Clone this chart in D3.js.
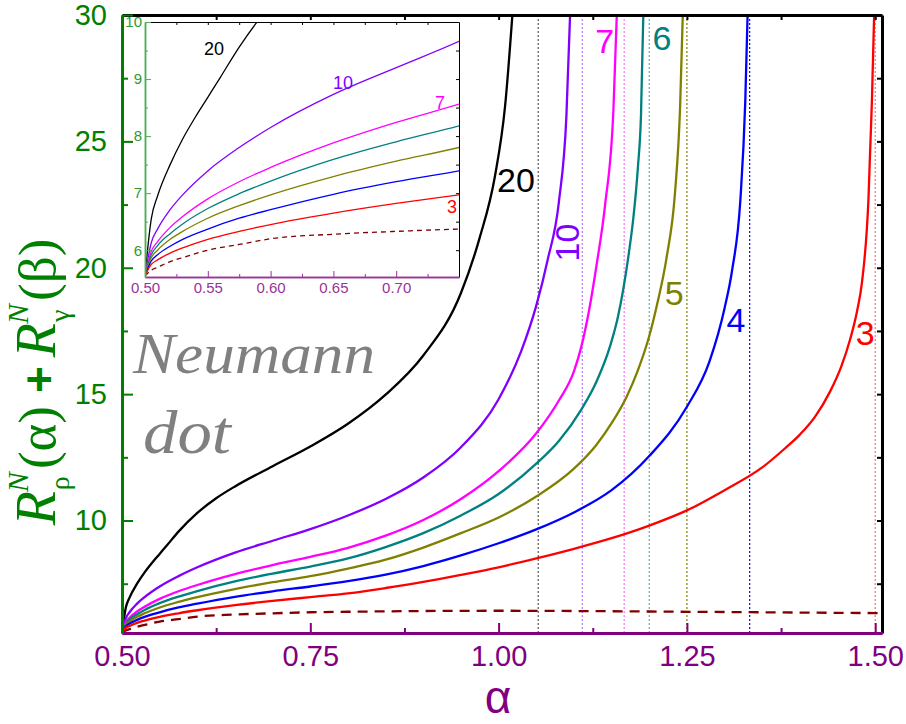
<!DOCTYPE html>
<html><head><meta charset="utf-8">
<script src="https://cdn.jsdelivr.net/npm/d3@7"></script>
<style>body{margin:0;background:#fff}svg{display:block}</style>
</head><body><svg id="c" width="906" height="724"></svg>
<script>
// ---------------- data ----------------
const curveNames  = ["20","10","7","6","5","4","3"];
const curveColors = ["#000000","#8000ff","#ff00ff","#008080","#808000","#0000ff","#ff0000"];
const poleColors  = ["#555555","#b07cff","#ff70ff","#5fb0b0","#808000","#0000ff","#ff7070"];
const poles = [1.0526, 1.1111, 1.1667, 1.2, 1.25, 1.3333, 1.5];
const xTickLabels = [0.50, 0.75, 1.00, 1.25, 1.50];
const yTickLabels = [10, 15, 20, 25, 30];
const insetXTickLabels = [0.50, 0.55, 0.60, 0.65, 0.70];
const insetYTickLabels = [6, 7, 8, 9, 10];

const s20 = [[0.5,5.55],[0.505,6.55],[0.51,6.95],[0.52,7.5],[0.53,7.95],[0.54,8.33],[0.55,8.68],[0.56,9.03],[0.575,9.56],[0.6,10.3],[0.625,10.88],[0.65,11.35],[0.7,12.15],[0.75,12.93],[0.8,13.83],[0.85,14.98],[0.9,16.53],[0.95,19.0],[0.975,21.2],[0.995,23.6],[1.0086,26.4],[1.0195,30.5]];
const s10 = [[0.5,5.55],[0.505,6.13],[0.51,6.37],[0.52,6.71],[0.53,6.97],[0.55,7.39],[0.575,7.8],[0.6,8.15],[0.65,8.73],[0.7,9.2],[0.75,9.66],[0.8,10.2],[0.85,10.85],[0.9,11.7],[0.95,12.9],[1.0,14.8],[1.03,16.7],[1.05,18.5],[1.065,20.3],[1.08,22.6],[1.09,26.0],[1.0955,30.5]];
const s7  = [[0.5,5.55],[0.505,5.98],[0.51,6.15],[0.52,6.4],[0.53,6.59],[0.55,6.9],[0.575,7.2],[0.6,7.45],[0.65,7.88],[0.7,8.24],[0.75,8.56],[0.8,8.92],[0.85,9.4],[0.9,10.02],[0.95,10.85],[1.0,11.95],[1.05,13.45],[1.08,14.75],[1.1,15.9],[1.11,16.9],[1.12,18.3],[1.13,20.1],[1.1414,22.5],[1.1525,26.3],[1.1575,30.5]];
const s6  = [[0.5,5.55],[0.505,5.92],[0.51,6.08],[0.52,6.29],[0.53,6.46],[0.55,6.73],[0.575,6.99],[0.6,7.21],[0.65,7.59],[0.7,7.9],[0.75,8.18],[0.8,8.5],[0.85,8.95],[0.9,9.5],[0.95,10.2],[1.0,11.05],[1.05,12.25],[1.08,13.15],[1.11,14.4],[1.13,15.5],[1.148,16.9],[1.158,18.0],[1.1658,19.2],[1.173,20.6],[1.179,22.0],[1.185,24.0],[1.189,26.0],[1.1925,30.5]];
const s5  = [[0.5,5.55],[0.505,5.87],[0.51,6.0],[0.52,6.19],[0.53,6.33],[0.55,6.56],[0.575,6.78],[0.6,6.97],[0.65,7.29],[0.7,7.56],[0.75,7.8],[0.8,8.1],[0.85,8.45],[0.9,8.93],[0.95,9.5],[1.0,10.12],[1.05,10.95],[1.1,12.05],[1.13,13.0],[1.15,13.85],[1.17,14.9],[1.185,15.95],[1.2,17.3],[1.21,18.5],[1.223,20.4],[1.234,22.9],[1.241,26.4],[1.245,30.5]];
const s4  = [[0.5,5.55],[0.505,5.81],[0.51,5.92],[0.52,6.07],[0.53,6.19],[0.55,6.37],[0.575,6.56],[0.6,6.71],[0.65,6.98],[0.7,7.2],[0.75,7.39],[0.8,7.6],[0.85,7.86],[0.9,8.2],[0.95,8.62],[1.0,9.1],[1.05,9.65],[1.1,10.32],[1.15,11.2],[1.2,12.55],[1.25,14.5],[1.28,16.3],[1.3,18.4],[1.31,19.9],[1.321,22.7],[1.3275,26.6],[1.331,30.5]];
const s3  = [[0.5,5.55],[0.505,5.75],[0.51,5.83],[0.52,5.95],[0.53,6.04],[0.55,6.19],[0.575,6.33],[0.6,6.45],[0.65,6.65],[0.7,6.82],[0.75,6.97],[0.8,7.12],[0.85,7.33],[0.9,7.57],[0.95,7.85],[1.0,8.15],[1.05,8.5],[1.1,8.88],[1.15,9.3],[1.2,9.8],[1.25,10.4],[1.3,11.2],[1.35,12.1],[1.38,12.85],[1.4,13.4],[1.42,14.1],[1.44,15.1],[1.455,16.1],[1.467,17.2],[1.476,18.3],[1.4823,19.4],[1.491,22.7],[1.4956,26.6],[1.499,30.5]];
const sLimit = [[0.5,5.55],[0.505,5.65],[0.51,5.7],[0.52,5.8],[0.53,5.87],[0.55,6.0],[0.575,6.1],[0.6,6.2],[0.65,6.28],[0.7,6.33],[0.75,6.37],[0.8,6.39],[0.9,6.42],[1.0,6.43],[1.1,6.42],[1.2,6.4],[1.3,6.38],[1.4,6.36],[1.5,6.34],[1.51,6.34]];
const seriesList = [s20, s10, s7, s6, s5, s4, s3];

// label anchors (data coords)
const mainLabelAt = [[1.023,23.47],[1.091,21.0],[1.141,29.0],[1.217,29.1],[1.233,19.0],[1.315,17.93],[1.4867,17.42]];
const insetLabelNames = ["20","10","7","3"];
const insetLabelColors = ["#000000","#8000ff","#ff00ff","#ff0000"];
const insetLabelAt = [[0.555,9.54],[0.6576,8.94],[0.7348,8.59],[0.7444,6.77]];

// ---------------- drawing ----------------
const svg = d3.select("#c");
const GREEN = "#008000", PURPLE = "#800080";
const x = d3.scaleLinear().domain([0.5, 1.509]).range([122, 882]);
const y = d3.scaleLinear().domain([5.55, 30]).range([633, 15]);

svg.append("defs").append("clipPath").attr("id","mainClip")
  .append("rect").attr("x",122).attr("y",15).attr("width",760).attr("height",618);

const plot = svg.append("g").attr("clip-path","url(#mainClip)");
plot.selectAll("line.pole").data(poles).join("line")
  .attr("x1",d=>x(d)).attr("x2",d=>x(d)).attr("y1",y(5.55)).attr("y2",y(30))
  .attr("stroke",(d,i)=>poleColors[i]).attr("stroke-width",1.2).attr("stroke-dasharray","2,2");

const line = d3.line().x(d=>x(d[0])).y(d=>y(d[1])).curve(d3.curveMonotoneX);
plot.append("path").datum(sLimit).attr("d",line).attr("fill","none")
  .attr("stroke","#800000").attr("stroke-width",2.3).attr("stroke-dasharray","10,7");
seriesList.forEach((s,i)=>{
  plot.append("path").datum(s).attr("d",line).attr("fill","none")
    .attr("stroke",curveColors[i]).attr("stroke-width",2.3);
});

// axes
const fontSans = "'Liberation Sans', Arial, sans-serif";
function styleAxis(g, color, w){
  g.select(".domain").attr("stroke",color).attr("stroke-width",w);
  g.selectAll(".tick line").attr("stroke",color).attr("stroke-width",2);
  g.selectAll(".tick text").attr("fill",color).style("font-family",fontSans);
}
const topAx = svg.append("g").attr("transform","translate(0,15)")
  .call(d3.axisTop(x).tickValues(d3.range(0.625,1.51,0.125)).tickSizeInner(-5).tickSizeOuter(0).tickFormat(""));
styleAxis(topAx,"#000",3);
const rightAx = svg.append("g").attr("transform","translate(882,0)")
  .call(d3.axisRight(y).tickValues(d3.range(7.5,30,2.5)).tickSizeInner(-5).tickSizeOuter(0).tickFormat(""));
styleAxis(rightAx,"#000",3);
const bMinor = svg.append("g").attr("transform","translate(0,633)")
  .call(d3.axisBottom(x).tickValues([0.625,0.875,1.125,1.375]).tickSizeInner(-5).tickSizeOuter(0).tickFormat(""));
styleAxis(bMinor,PURPLE,3);
const bAx = svg.append("g").attr("transform","translate(0,633)")
  .call(d3.axisBottom(x).tickValues(xTickLabels).tickSizeInner(-10).tickSizeOuter(0).tickPadding(12).tickFormat(d3.format(".2f")));
styleAxis(bAx,PURPLE,3);
bAx.selectAll(".tick text").style("font-size","29px");
const lMinor = svg.append("g").attr("transform","translate(122,0)")
  .call(d3.axisLeft(y).tickValues([7.5,12.5,17.5,22.5,27.5]).tickSizeInner(-6).tickSizeOuter(0).tickFormat(""));
styleAxis(lMinor,GREEN,3);
const lAx = svg.append("g").attr("transform","translate(122,0)")
  .call(d3.axisLeft(y).tickValues(yTickLabels).tickSizeInner(-11).tickSizeOuter(0).tickPadding(15).tickFormat(d3.format("d")));
styleAxis(lAx,GREEN,3);
lAx.selectAll(".tick text").style("font-size","29px");

// axis titles
svg.append("text").attr("x",498).attr("y",713).attr("text-anchor","middle")
  .attr("fill",PURPLE).style("font-family",fontSans).style("font-size","46px").text("α");

const tg = svg.append("g").attr("transform","translate(55,382) rotate(-90)");
const serif = "'Liberation Serif','Times New Roman',serif";
const parts = [
  {t:"R", fam:serif, size:56, st:"italic", gap:1},
  {sup:"N", sub:"ρ"},
  {t:"(α)", fam:serif, size:53, gap:13},
  {t:"+", fam:fontSans, size:46, w:"bold", gap:9},
  {t:"R", fam:serif, size:56, st:"italic", gap:1},
  {sup:"N", sub:"γ"},
  {t:"(β)", fam:serif, size:53, gap:0}
];
let cur = 0;
const inner = tg.append("g");
parts.forEach(p=>{
  if (p.t){
    const t = inner.append("text").attr("x",cur).attr("y",0).attr("fill",GREEN)
      .style("font-family",p.fam).style("font-size",p.size+"px")
      .style("font-style",p.st||"normal").style("font-weight",p.w||"normal").text(p.t);
    cur += t.node().getComputedTextLength() + p.gap;
  } else {
    const a = inner.append("text").attr("x",cur-2).attr("y",-27).attr("fill",GREEN)
      .style("font-family",serif).style("font-size","30px").style("font-style","italic").text(p.sup);
    const b = inner.append("text").attr("x",cur).attr("y",14).attr("fill",GREEN)
      .style("font-family",serif).style("font-size","28px").text(p.sub);
    cur += Math.max(a.node().getComputedTextLength()-2, b.node().getComputedTextLength()) + 3;
  }
});
inner.attr("transform",`translate(${-cur/2},0)`);

// Neumann dot
svg.append("text").attr("x",133).attr("y",373).attr("fill","#808080")
  .style("font-family",serif).style("font-style","italic").style("font-size","58px")
  .attr("textLength",242).attr("lengthAdjust","spacingAndGlyphs").text("Neumann");
svg.append("text").attr("x",143).attr("y",453).attr("fill","#808080")
  .style("font-family",serif).style("font-style","italic").style("font-size","62px")
  .attr("textLength",88).attr("lengthAdjust","spacingAndGlyphs").text("dot");

// curve labels
svg.selectAll("text.clab").data(curveNames).join("text").attr("class","clab")
  .attr("transform",(d,i)=>`translate(${x(mainLabelAt[i][0])},${y(mainLabelAt[i][1])})` + (d==="10"?" rotate(-90)":""))
  .attr("text-anchor","middle").attr("dy","0.36em")
  .attr("fill",(d,i)=>curveColors[i]).style("font-family",fontSans).style("font-size","34px").text(d=>d);

// ---------------- inset ----------------
const xi = d3.scaleLinear().domain([0.5,0.75]).range([145,459]);
const yi = d3.scaleLinear().domain([5.53,10]).range([277,22]);
svg.append("rect").attr("x",145).attr("y",22).attr("width",314).attr("height",255).attr("fill","#fff");
svg.append("defs").append("clipPath").attr("id","insClip")
  .append("rect").attr("x",145).attr("y",22).attr("width",314).attr("height",255);
const ins = svg.append("g").attr("clip-path","url(#insClip)");
const linei = d3.line().x(d=>xi(d[0])).y(d=>yi(d[1])).curve(d3.curveMonotoneX);
ins.append("path").datum(sLimit).attr("d",linei).attr("fill","none")
  .attr("stroke","#800000").attr("stroke-width",1.3).attr("stroke-dasharray","5,4");
seriesList.forEach((s,i)=>{
  ins.append("path").datum(s).attr("d",linei).attr("fill","none")
    .attr("stroke",curveColors[i]).attr("stroke-width",1.3);
});
function styleI(g,color,w,tc){
  g.select(".domain").attr("stroke",color).attr("stroke-width",w);
  g.selectAll(".tick line").attr("stroke",color).attr("stroke-width",1);
  g.selectAll(".tick text").attr("fill",tc||color).style("font-family",fontSans).style("font-size","15px");
}
const iTop = svg.append("g").attr("transform","translate(0,22)")
  .call(d3.axisTop(xi).tickValues(d3.range(0.525,0.75,0.025)).tickSizeInner(-3).tickSizeOuter(0).tickFormat(""));
styleI(iTop,"#000",1);
const iRight = svg.append("g").attr("transform","translate(459,0)")
  .call(d3.axisRight(yi).tickValues(d3.range(6,10,0.5)).tickSizeInner(-3).tickSizeOuter(0).tickFormat(""));
styleI(iRight,"#000",1);
const iBm = svg.append("g").attr("transform","translate(0,277)")
  .call(d3.axisBottom(xi).tickValues(d3.range(0.525,0.75,0.05)).tickSizeInner(-3).tickSizeOuter(0).tickFormat(""));
styleI(iBm,"#993399",1.5);
const iB = svg.append("g").attr("transform","translate(0,277)")
  .call(d3.axisBottom(xi).tickValues(insetXTickLabels).tickSizeInner(-6).tickSizeOuter(0).tickPadding(5).tickFormat(d3.format(".2f")));
styleI(iB,"#993399",1.5);
const iLm = svg.append("g").attr("transform","translate(145,0)")
  .call(d3.axisLeft(yi).tickValues([6.5,7.5,8.5,9.5]).tickSizeInner(-3).tickSizeOuter(0).tickFormat(""));
styleI(iLm,"#4caf50",1.5);
const iL = svg.append("g").attr("transform","translate(145,0)")
  .call(d3.axisLeft(yi).tickValues(insetYTickLabels).tickSizeInner(-6).tickSizeOuter(0).tickPadding(3).tickFormat(d3.format("d")));
styleI(iL,"#4caf50",1.5,"#2e9a2e");

svg.selectAll("text.ilab").data(insetLabelNames).join("text").attr("class","ilab")
  .attr("x",(d,i)=>xi(insetLabelAt[i][0])).attr("y",(d,i)=>yi(insetLabelAt[i][1]))
  .attr("text-anchor","middle").attr("dy","0.36em")
  .attr("fill",(d,i)=>insetLabelColors[i]).style("font-family",fontSans).style("font-size","18px").text(d=>d);
</script></body></html>
